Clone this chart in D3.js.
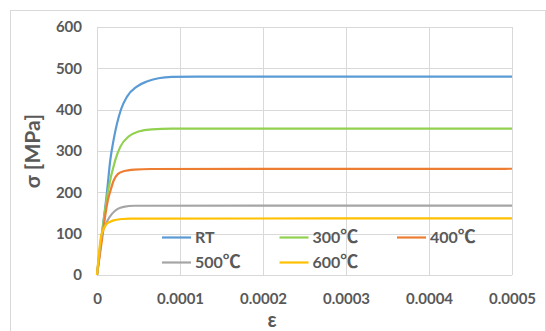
<!DOCTYPE html>
<html>
<head>
<meta charset="utf-8">
<script src="https://cdn.jsdelivr.net/npm/d3@7"></script>
<style>
  html, body { margin: 0; padding: 0; background: #fff; }
  svg { display: block; }
  text { font-family: Lato, "Open Sans", sans-serif; font-weight: bold; fill: #595959; }
</style>
</head>
<body>
<svg id="chart" width="546" height="331"></svg>
<script>
// Stress–strain curves at several temperatures (strain in units of 1e-5)
const seriesNames = ["RT", "300℃", "400℃", "500℃", "600℃"];
const seriesColors = ["#5b9bd5", "#92d050", "#ed7d31", "#a5a5a5", "#ffc000"];

const strainRT   = [0, 0.6, 1.2, 1.6, 2.0, 2.9, 3.6, 4.8, 6.0, 7.4, 9.0, 12, 50];
const stressRT   = [0, 100, 200, 278, 327, 401, 431, 456, 468, 476, 479.5, 480, 480];

const strain300  = [0, 0.6, 1.3, 2.2, 2.8, 3.8, 5.0, 6.6, 9.0, 50];
const stress300  = [0, 100, 200, 278, 310, 335, 347, 352.5, 354, 354];

const strain400  = [0, 0.7, 1.0, 1.3, 1.65, 2.0, 2.5, 3.2, 4.5, 6.5, 50];
const stress400  = [0, 100, 145, 180, 206, 228, 244, 251, 255, 256.5, 257];

const strain500  = [0, 0.6, 1.0, 1.3, 1.8, 2.5, 3.2, 4.5, 50];
const stress500  = [0, 100, 120, 133, 148, 160, 165, 167.5, 168];

const strain600  = [0, 0.5, 0.8, 1.1, 1.6, 2.2, 3.0, 4.0, 50];
const stress600  = [0, 95, 112, 122, 129, 133, 135.5, 136.5, 137];

const strainSets = [strainRT, strain300, strain400, strain500, strain600];
const stressSets = [stressRT, stress300, stress400, stress500, stress600];

const xTicks = [0, 0.0001, 0.0002, 0.0003, 0.0004, 0.0005];
const yTicks = [0, 100, 200, 300, 400, 500, 600];

const svg = d3.select("#chart");

// chart area frame
svg.append("rect")
  .attr("x", 10.5).attr("y", 10.5)
  .attr("width", 535).attr("height", 340)
  .attr("fill", "#fff").attr("stroke", "#d9d9d9");

const plot = { left: 97, right: 512, top: 27, bottom: 275 };

const x = d3.scaleLinear().domain([0, 0.0005]).range([plot.left, plot.right]);
const y = d3.scaleLinear().domain([0, 600]).range([plot.bottom, plot.top]);

// gridlines
const grid = svg.append("g").attr("stroke", "#d9d9d9").attr("stroke-width", 1);
grid.selectAll("line.h").data(yTicks).join("line")
  .attr("x1", plot.left).attr("x2", plot.right)
  .attr("y1", d => Math.round(y(d)) + 0.5).attr("y2", d => Math.round(y(d)) + 0.5);
grid.selectAll("line.v").data(xTicks).join("line")
  .attr("y1", plot.top).attr("y2", plot.bottom)
  .attr("x1", d => Math.round(x(d)) + 0.5).attr("x2", d => Math.round(x(d)) + 0.5);

// axes (labels only, lines come from the grid)
const xAxis = svg.append("g")
  .attr("transform", `translate(0,${plot.bottom})`)
  .call(d3.axisBottom(x).tickValues(xTicks).tickSize(0).tickPadding(18)
    .tickFormat(d => d === 0 ? "0" : d3.format(".4f")(d)));
xAxis.select(".domain").remove();
xAxis.selectAll("text").attr("font-size", 15).attr("fill", "#595959")
  .attr("font-family", "Lato, sans-serif").attr("font-weight", "bold");

const yAxis = svg.append("g")
  .attr("transform", `translate(${plot.left},0)`)
  .call(d3.axisLeft(y).tickValues(yTicks).tickSize(0).tickPadding(15));
yAxis.select(".domain").remove();
yAxis.selectAll("text").attr("font-size", 15).attr("fill", "#595959")
  .attr("font-family", "Lato, sans-serif").attr("font-weight", "bold");

// curves
const line = d3.line()
  .x(d => x(d[0] * 1e-5))
  .y(d => y(d[1]))
  .curve(d3.curveMonotoneX);

seriesNames.forEach((name, i) => {
  const pts = strainSets[i].map((e, k) => [e, stressSets[i][k]]);
  svg.append("path")
    .datum(pts)
    .attr("d", line)
    .attr("fill", "none")
    .attr("stroke", seriesColors[i])
    .attr("stroke-width", 2.2)
    .attr("stroke-linejoin", "round");
});

// axis titles
svg.append("text")
  .attr("transform", "translate(40,151) rotate(-90)")
  .attr("text-anchor", "middle")
  .attr("font-size", 21)
  .text("σ [MPa]");

svg.append("text")
  .attr("x", 272).attr("y", 327)
  .attr("text-anchor", "middle")
  .attr("font-size", 20)
  .text("ε");

// legend
const legend = svg.append("g");
seriesNames.forEach((name, i) => {
  const col = i % 3, row = Math.floor(i / 3);
  const lx = 162 + col * 117.5, ly = 237.5 + row * 25;
  legend.append("line")
    .attr("x1", lx).attr("x2", lx + 29)
    .attr("y1", ly).attr("y2", ly)
    .attr("stroke", seriesColors[i]).attr("stroke-width", 2.2);
  const t = legend.append("text")
    .attr("x", lx + 33).attr("y", ly)
    .attr("dy", "0.36em")
    .attr("font-size", 16);
  const deg = name.indexOf("℃");
  if (deg < 0) {
    t.text(name);
  } else {
    t.append("tspan").text(name.slice(0, deg));
    t.append("tspan")
      .attr("font-family", "'Noto Sans CJK SC', sans-serif")
      .attr("font-size", 18)
      .text("℃");
  }
});
</script>
</body>
</html>
